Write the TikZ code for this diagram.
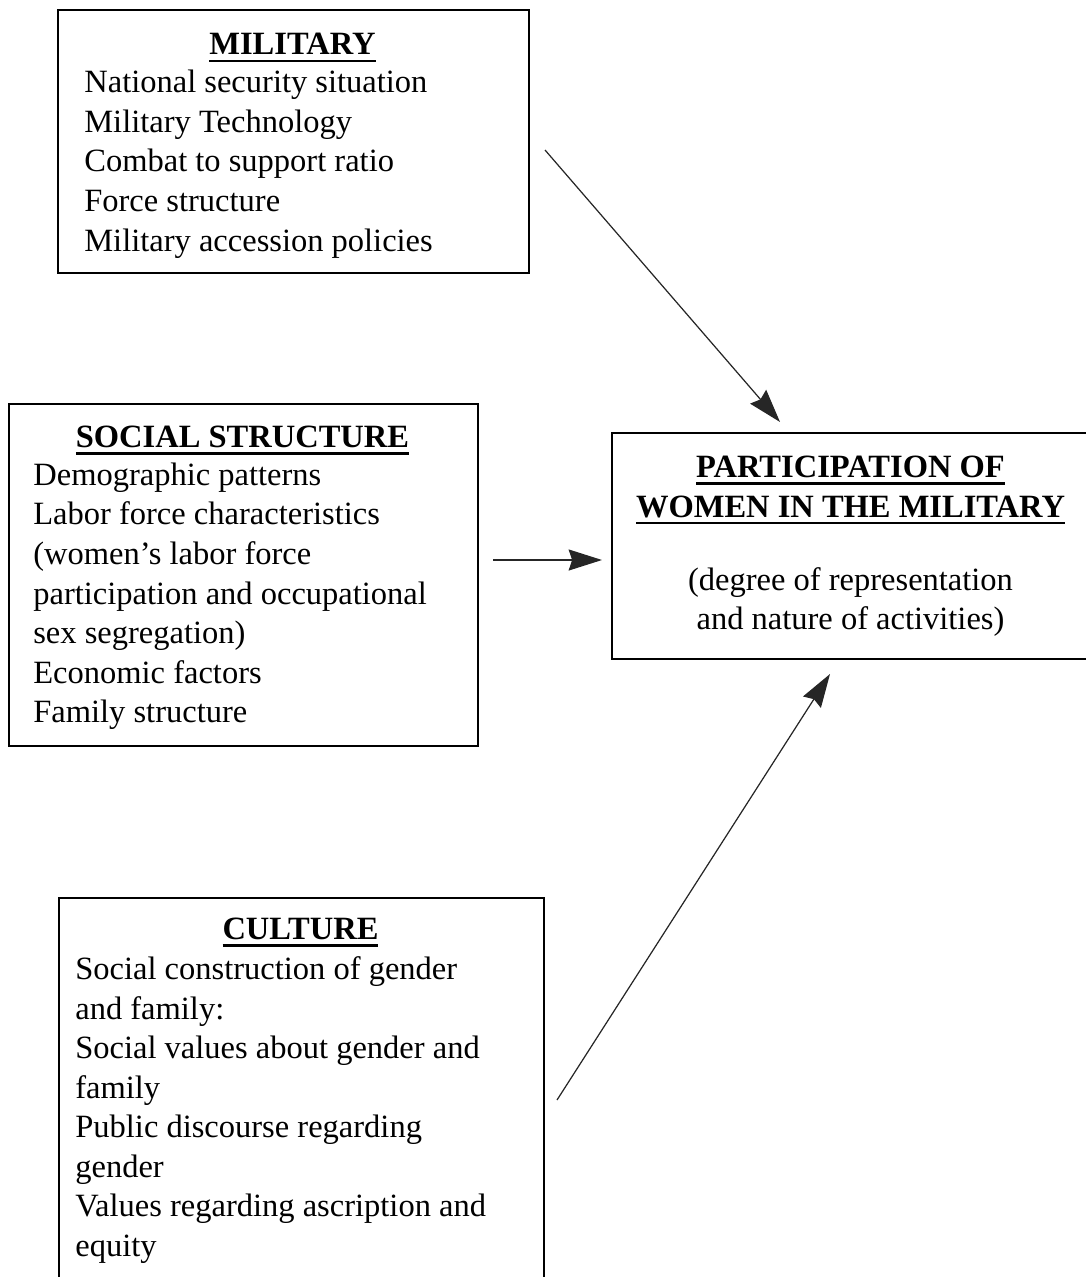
\documentclass[tikz,border=0pt]{standalone}
\usepackage{fontspec}
\setmainfont{Liberation Serif}
\usetikzlibrary{positioning,arrows.meta}
\newcommand{\undl}[1]{\setbox0\hbox{#1}\rlap{\rule[-4pt]{\wd0}{1.4pt}}\box0}

\begin{document}
\begin{tikzpicture}[x=0.02cm,y=-0.02cm,
		every node/.style={font=\fontsize{18.5}{22.5}\selectfont,inner sep=0pt},
		frame/.style={draw,line width=1.1pt,anchor=north west},
		head/.style={font=\fontsize{18.5}{22.5}\selectfont\bfseries,anchor=base},
		items/.style={align=left,anchor=north west},
		link/.style={-{Stealth[length=19pt,width=12pt,inset=2pt]},line width=0.7pt,black!85}]
	\useasboundingbox (0,0) rectangle (1085,1277);
	% boxes
	\node[frame,minimum width=9.42cm,minimum height=5.26cm] (mil) at (57,9) {};
	\node[frame,minimum width=9.38cm,minimum height=6.84cm] (soc) at (8,403) {};
	\node[frame,minimum width=9.58cm,minimum height=4.52cm] (part) at (611,432) {};
	\node[frame,minimum width=9.7cm,minimum height=7.9cm] (cult) at (58,897) {};
	% military
	\node[head] (milHead) at (292.5,55) {\undl{MILITARY}};
	\node[items] (milList) at (84,70) {National security situation\\Military Technology\\Combat to support ratio\\Force structure\\Military accession policies};
	% social structure
	\node[head] (socHead) at (242.5,447.5) {\undl{SOCIAL STRUCTURE}};
	\node[items] (socList) at (33,462.5) {Demographic patterns\\Labor force characteristics\\(women's labor force\\participation and occupational\\sex segregation)\\Economic factors\\Family structure};
	% participation
	\node[head,anchor=north,align=center] (partHead) at (850.5,456) {\undl{PARTICIPATION OF}\\\undl{WOMEN IN THE MILITARY}};
	\node[anchor=north,align=center] (partNote) at (850.5,567) {(degree of representation\\and nature of activities)};
	% culture
	\node[head] (cultHead) at (300.5,939.5) {\undl{CULTURE}};
	\node[items] (cultList) at (75,956.5) {Social construction of gender\\and family:\\Social values about gender and\\family\\Public discourse regarding\\gender\\Values regarding ascription and\\equity};
	% arrows
	\coordinate (milTail) at (545,150);
	\coordinate (partTop) at (780,422);
	\coordinate (socTail) at (493,560);
	\coordinate (partLeft) at (602,560);
	\coordinate (cultTail) at (557,1100);
	\coordinate (partBot) at (830,674);
	\draw[link] (milTail) -- (partTop);
	\draw[link] (socTail) -- (partLeft);
	\draw[link] (cultTail) -- (partBot);
\end{tikzpicture}
\end{document}
